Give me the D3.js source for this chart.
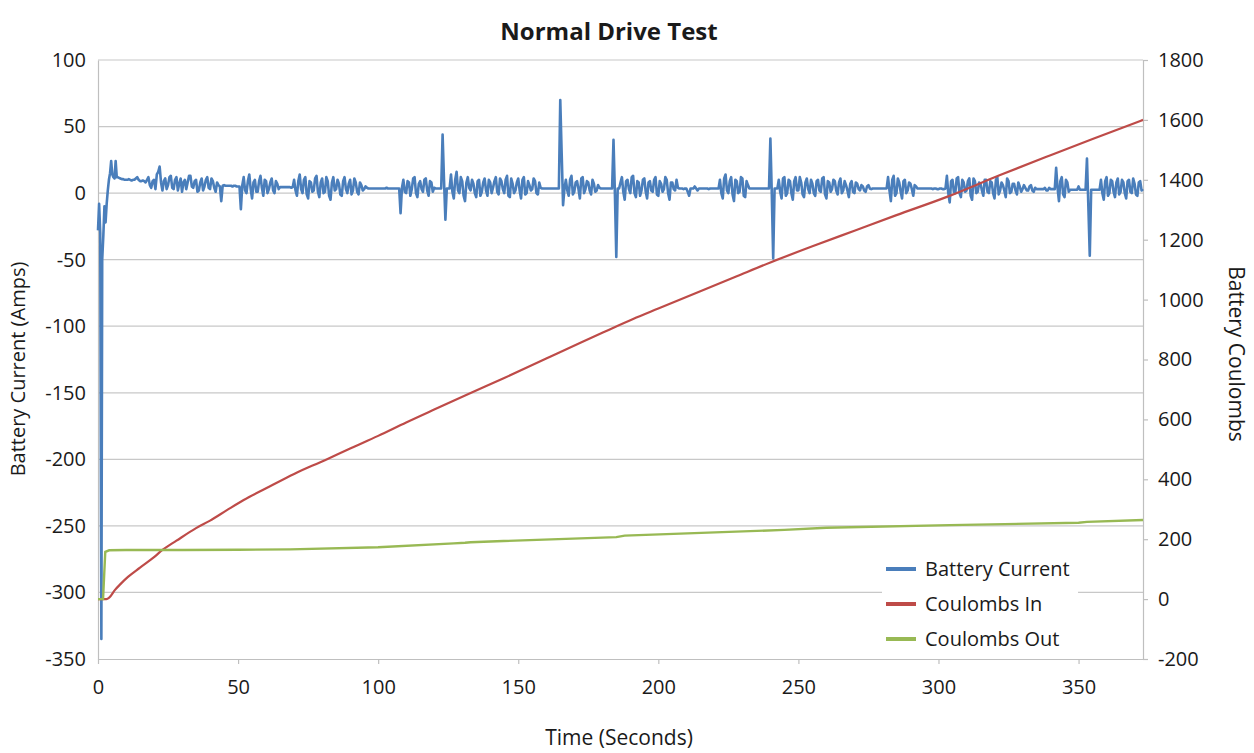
<!DOCTYPE html>
<html>
<head>
<meta charset="utf-8">
<script src="https://cdn.jsdelivr.net/npm/d3@7"></script>
<style>
  html, body { margin: 0; padding: 0; background: #fff; }
  svg { display: block; font-family: "Open Sans", "Noto Sans", sans-serif; }
</style>
</head>
<body>
<svg id="chart" width="1254" height="753"></svg>
<script>
// ---------------- DATA ----------------
const chartTitle = "Normal Drive Test";
const xTicks = [0, 50, 100, 150, 200, 250, 300, 350];
const leftTicks = [-350, -300, -250, -200, -150, -100, -50, 0, 50, 100];
const rightTicks = [-200, 0, 200, 400, 600, 800, 1000, 1200, 1400, 1600, 1800];
const seriesNames = ["Battery Current", "Coulombs In", "Coulombs Out"];

// Battery current, start-up transient (seconds, amps)
const startupTime = [0, 0.4, 0.8, 1.2, 1.5, 1.9, 2.3, 2.7, 3.1, 3.5, 3.9, 4.3, 4.7, 5.1, 5.5, 5.9, 6.3, 6.7];
const startupAmps = [-28, -8, -30, -335, -50, -32, -10, -22, -8, 2, 10, 15, 24, 14, 12, 11, 24, 12];

// Battery current on whole seconds from t = 7 s (amps)
const currentStart = 7;
const currentAmps = [
  12, 11, 10.5, 10, 10.5, 9.5, 10, 12, 9, 9.5,
  8, 12, 4, 10, 14, 20, 2, 11, 6, 13,
  3, 12, 7, 1, 10, 8, 13, 4, 10, 2,
  11, 5, 12, 3, 9, 1, 6, -6, 6, 5.5,
  5.5, 5, 5.5, 5, -12, 12, 0, 14, -4, 10,
  1, 13, -2, 9, 3, 11, 0, 7, 4.5, 4.5,
  4.5, 4.5, 4, 10, -2, 14, 0, 12, -4, 8,
  2, 13, -3, 11, 1, 9, -5, 12, 3, 7,
  -2, 12, 0, 10, 2, 8, -1, 6, 3, 4,
  3.5, 3.5, 3.5, 3.5, 3.5, 3.5, 4, 3.5, 3.5, 3.5,
  3.5, -15, 10, 0, 8, 3, 12, -3, 9, 1,
  11, -2, 8, 4, 3.5, 3.5, 44, -20, 3.5, 14,
  -4, 16, 0, 9, -6, 12, 2, 7, -3, 10,
  1, 11, -2, 8, 4, 12, -1, 9, 0, 13,
  -3, 7, 2, 11, -4, 12, 0, 6, 3, 9,
  -1, 4, 3.5, 3.5, 3.5, 3.5, 3.5, 3.5, 70, -9,
  10, -2, 13, 1, 9, -4, 12, 3, 8, -1,
  7, 2, 4, 3.5, 3.5, 3.5, 3.5, 40, -48, 3.5,
  12, -5, 10, 0, 13, -3, 8, 2, 11, -4,
  9, 1, 12, -2, 7, 3, 10, -5, 8, 2,
  4, 3.5, 3, 3.5, -2, 3.5, 5, 2, 3.5, 3.5,
  3.5, 3, 3.5, 3.5, 3.5, 10, -4, 14, 0, 12,
  -6, 9, 1, 11, -3, 6, 3.5, 3.5, 3.5, 3.5,
  3.5, 3.5, 3.5, 41, -49, 3.5, 10, -4, 12, 0,
  9, -5, 12, 2, 8, -3, 11, 0, 7, -2,
  10, 1, 12, -4, 8, 3, 9, -1, 11, 2,
  6, -3, 9, 0, 7, 2, 5, 1, 6, 3,
  3.5, 3.5, 3.5, 3.5, 3.5, 12, -6, 13, 0, 8,
  -4, 10, 2, 7, -2, 5, 3.5, 3.5, 3.5, 3.5,
  3.5, 3, 3.5, 3, 3.5, 3, 13, -7, 10, 0,
  12, -3, 8, 2, 11, -5, 9, 1, 7, -2,
  10, 0, 8, -4, 12, 2, 6, -3, 9, 1,
  7, -1, 5, 3, 4, 2, 6, 1, 3, 3,
  3, 4, 2, 3, 3, 19, -6, 12, -3, 8,
  2.5, 2.5, 2.5, 5, 2.5, 2.5, 26, -47, 2.5, 2.5,
  2.5, 10, -5, 12, 0, 9, -3, 11, 1, 8,
  -4, 10, 0, 7, -2, 9, 3
];

// Battery current on half seconds from t = 7.5 s (amps)
const currentAmpsHalf = [
  11.5, 10.5, 10, 10, 10, 10, 11, 10, 9, 9,
  10, 6, 9, 3, 16, 8, 9, 3, 12, 4,
  10, 2, 11, 8, 3, 13, 5, 9, 1, 8,
  2, 10, 4, 11, 4, 8, 5, 5.5, 5.5, 5.5,
  5.5, 5.5, 5, 5, 6, 2, 9, 3, 8, 1,
  9, 4, 10, 0, 8, 2, 9, 3, 4.5, 4.5,
  4.5, 4.5, 4.5, 2, 9, 3, 10, -1, 9, 1,
  11, 1, 8, 0, 12, -2, 8, 2, 10, -1,
  9, 3, 7, -1, 11, 1, 8, 2, 5, 3.5,
  3.5, 3.5, 3.5, 3.5, 3.5, 3.5, 3.5, 3.5, 3.5, 3.5,
  3.5, 4, 1, 9, -2, 11, 0, 7, 3, 10,
  2, 9, 1, 3.5, 3.5, 3.5, 10, 3.5, 3.5, 1,
  10, 2, 12, -2, 8, 4, 10, 0, 9, -2,
  8, 2, 10, 0, 9, 1, 11, 3, 10, -2,
  11, 0, 8, 2, 10, -1, 9, 2, 11, 0,
  8, 3.5, 3.5, 3.5, 3.5, 3.5, 3.5, 3.5, 30, 3.5,
  2, 10, -1, 8, 3, 11, 0, 9, 2, 10,
  1, 6, 3.5, 3.5, 3.5, 3.5, 3.5, 0, 3.5, 8,
  1, 9, 3, 12, 0, 9, -2, 10, 1, 8,
  2, 10, -1, 9, 1, 12, 0, 8, 3, 10,
  3.5, 3.5, 3.5, 1, 3.5, 3.5, 3.5, 3.5, 3.5, 3.5,
  3.5, 3.5, 3.5, 3.5, 3.5, 0, 11, 2, 9, -1,
  10, 0, 12, -2, 9, 3.5, 3.5, 3.5, 3.5, 3.5,
  3.5, 3.5, 3.5, 0, 3.5, 3.5, 1, 11, -2, 10,
  0, 9, 2, 12, -1, 8, 3, 10, 0, 9,
  2, 11, -1, 9, 1, 10, 2, 8, 0, 9,
  2, 7, 1, 8, 3, 6, 2, 5, 3.5, 3.5,
  3.5, 3.5, 3.5, 3.5, 3.5, 2, 10, -2, 11, 1,
  9, 0, 8, 3, 6, 3.5, 3.5, 3.5, 3.5, 3.5,
  3.5, 3.5, 3, 3.5, 3, 3.5, 0, 9, 1, 11,
  0, 10, 1, 9, -2, 11, 0, 8, 2, 10,
  1, 9, 0, 10, -1, 8, 2, 11, 0, 7,
  2, 8, 1, 6, 2, 5, 2, 4, 3, 3,
  3, 2, 4, 3, 3, 4, 9, -1, 10, 1,
  2.5, 2.5, 2.5, 2.5, 2.5, 2.5, -10, 2.5, 2.5, 2.5,
  2.5, 0, 9, -2, 10, 1, 8, -1, 10, 0,
  9, 1, 11, -1, 8, 2
];

// Coulombs In (seconds, coulombs)
const inTime = [0, 3, 4, 6, 8, 10.7, 15, 20, 23, 28, 35, 40, 46, 52, 60, 70, 81, 90, 100, 110, 120, 133, 145, 160, 172, 180, 191, 200, 215, 228, 240, 255, 270, 285, 303, 322, 340, 355, 373];
const coulombsIn = [0, 0, 5, 30, 50, 74, 105, 140, 164, 195, 237, 262, 297, 331, 370, 418, 464, 503, 545, 590, 633, 688, 738, 803, 855, 889, 935, 970, 1028, 1078, 1124, 1178, 1230, 1282, 1343, 1416, 1482, 1536, 1600];

// Coulombs Out (seconds, coulombs)
const outTime = [0, 1.8, 2.2, 2.6, 4, 10, 30, 50, 68.6, 100, 127, 131, 133, 185, 188, 245, 260, 304, 350, 353, 373];
const coulombsOut = [0, 0, 80, 158, 163, 164, 164, 165, 166, 173, 186, 188, 190, 207, 212, 231, 238, 247, 255, 258, 264];

// ---------------- STYLE ----------------
const colors = ["#4A7EBB", "#BE4B48", "#98B954"];
const gridColor = "#C8C8C8";
const axisColor = "#BFBFBF";
const textColor = "#1a1a1a";

// ---------------- BUILD ----------------
const svg = d3.select("#chart");
const plot = { left: 98, right: 1143, top: 60, bottom: 659 };

const x = d3.scaleLinear().domain([0, 373]).range([plot.left, plot.right]);
const yL = d3.scaleLinear().domain([-350, 100]).range([plot.bottom, plot.top]);
const yR = d3.scaleLinear().domain([-200, 1800]).range([plot.bottom, plot.top]);
const fmt = d => String(d);

// gridlines
svg.append("g").selectAll("line")
  .data(leftTicks.filter(d => d !== -350))
  .join("line")
  .attr("x1", plot.left).attr("x2", plot.right)
  .attr("y1", d => yL(d)).attr("y2", d => yL(d))
  .attr("stroke", gridColor).attr("stroke-width", 1.2);

// axes
function styleAxis(g) {
  g.select(".domain").attr("stroke", axisColor).attr("stroke-width", 1.2);
  g.selectAll(".tick line").attr("stroke", axisColor).attr("stroke-width", 1.2);
  g.selectAll(".tick text").attr("fill", textColor).style("font-size", "20px")
    .style("font-family", '"Open Sans", sans-serif');
}

svg.append("g").attr("transform", `translate(${plot.left},0)`)
  .call(d3.axisLeft(yL).tickValues(leftTicks).tickSize(0).tickPadding(12).tickFormat(fmt))
  .call(styleAxis);

svg.append("g").attr("transform", `translate(${plot.right},0)`)
  .call(d3.axisRight(yR).tickValues(rightTicks).tickSize(5).tickSizeOuter(0).tickPadding(10).tickFormat(fmt))
  .call(styleAxis);

svg.append("g").attr("transform", `translate(0,${plot.bottom})`)
  .call(d3.axisBottom(x).tickValues(xTicks).tickSize(5).tickSizeOuter(0).tickPadding(16).tickFormat(fmt))
  .call(styleAxis);

// series
const currentPoints = startupTime.map((t, i) => [t, startupAmps[i]]);
currentAmps.forEach((v, i) => {
  currentPoints.push([currentStart + i, v]);
  if (i < currentAmpsHalf.length) currentPoints.push([currentStart + i + 0.5, currentAmpsHalf[i]]);
});
const inPoints = inTime.map((t, i) => [t, coulombsIn[i]]);
const outPoints = outTime.map((t, i) => [t, coulombsOut[i]]);

svg.append("path").datum(currentPoints)
  .attr("fill", "none").attr("stroke", colors[0]).attr("stroke-width", 2.6)
  .attr("stroke-linejoin", "round")
  .attr("d", d3.line().x(d => x(d[0])).y(d => yL(d[1])));

svg.append("path").datum(inPoints)
  .attr("fill", "none").attr("stroke", colors[1]).attr("stroke-width", 2.2)
  .attr("d", d3.line().curve(d3.curveMonotoneX).x(d => x(d[0])).y(d => yR(d[1])));

svg.append("path").datum(outPoints)
  .attr("fill", "none").attr("stroke", colors[2]).attr("stroke-width", 2.4)
  .attr("d", d3.line().x(d => x(d[0])).y(d => yR(d[1])));

// title
svg.append("text").attr("x", 609).attr("y", 40).attr("text-anchor", "middle")
  .attr("fill", textColor).style("font-size", "24px").style("font-weight", "bold")
  .text(chartTitle);

// axis titles
svg.append("text").attr("transform", "translate(25,369) rotate(-90)")
  .attr("text-anchor", "middle").attr("fill", textColor).style("font-size", "20px")
  .text("Battery Current (Amps)");
svg.append("text").attr("transform", "translate(1229,354) rotate(90)")
  .attr("text-anchor", "middle").attr("fill", textColor).style("font-size", "21px")
  .text("Battery Coulombs");
svg.append("text").attr("x", 619).attr("y", 745)
  .attr("text-anchor", "middle").attr("fill", textColor).style("font-size", "21px")
  .text("Time (Seconds)");

// legend
const legend = svg.append("g");
legend.append("rect").attr("x", 882).attr("y", 549).attr("width", 196).attr("height", 108)
  .attr("fill", "#fff");
const legendRows = legend.selectAll("g.row").data(seriesNames).join("g")
  .attr("class", "row")
  .attr("transform", (d, i) => `translate(886,${569 + i * 35})`);
legendRows.append("line").attr("x1", 0).attr("x2", 30).attr("y1", 0).attr("y2", 0)
  .attr("stroke", (d, i) => colors[i]).attr("stroke-width", 4);
legendRows.append("text").attr("x", 39).attr("y", 0).attr("dy", "0.35em")
  .attr("fill", textColor).style("font-size", "20px").text(d => d);
</script>
</body>
</html>
